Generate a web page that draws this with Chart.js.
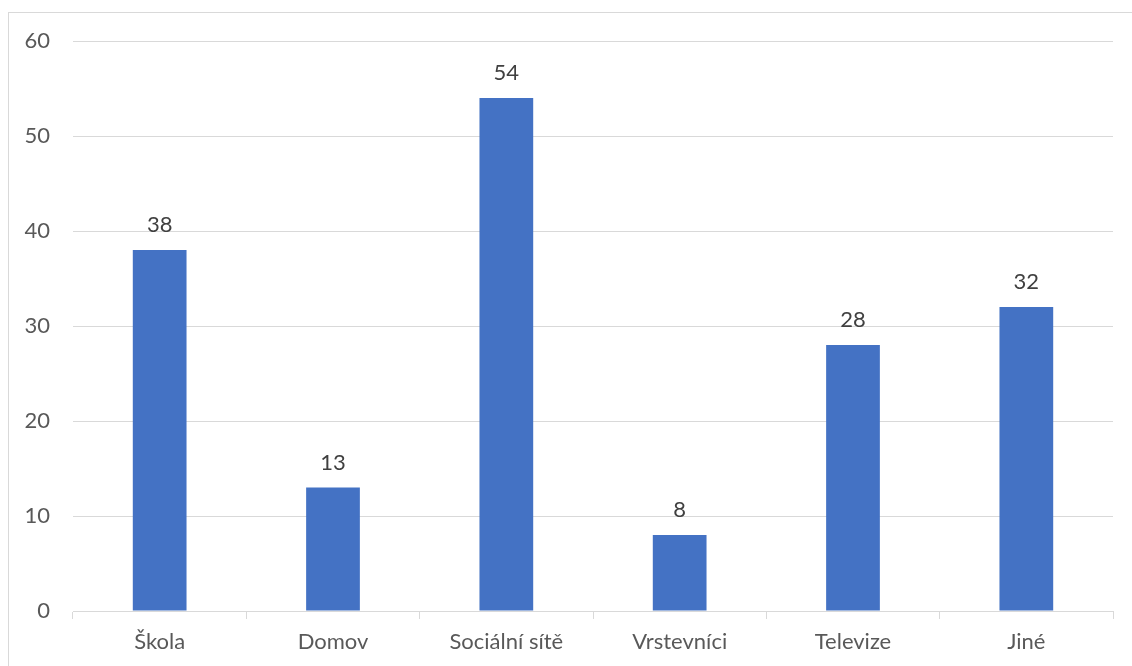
<!DOCTYPE html>
<html>
<head>
<meta charset="utf-8">
<script src="https://cdn.jsdelivr.net/npm/chart.js@4"></script>
<style>
    body { margin: 0; background: #fff; overflow: hidden; }
    #frame {
        position: absolute; left: 8px; top: 12px;
        width: 1200px; height: 700px;
        border: 1px solid #d9d9d9;
    }
    #wrap { position: absolute; left: 0; top: 0; width: 1132px; height: 666px; }
</style>
</head>
<body>
<div id="frame"></div>
<div id="wrap"><canvas id="chart"></canvas></div>
<script>
const categories = ["Škola", "Domov", "Sociální sítě", "Vrstevníci", "Televize", "Jiné"];
const values = [38, 13, 54, 8, 28, 32];
const yTicks = [0, 10, 20, 30, 40, 50, 60];

const FONT = "Lato, 'Open Sans', sans-serif";
const gridGray = "#d9d9d9";

/* value labels above the bars */
const barLabels = {
    id: "barLabels",
    afterDatasetsDraw(chart) {
        const ctx = chart.ctx;
        const meta = chart.getDatasetMeta(0);
        ctx.save();
        ctx.font = "22px " + FONT;
        ctx.fillStyle = "#404040";
        ctx.textAlign = "center";
        ctx.textBaseline = "middle";
        meta.data.forEach((bar, i) => {
            ctx.fillText(values[i], bar.x, bar.y - 25);
        });
        ctx.restore();
    }
};

new Chart(document.getElementById("chart"), {
    type: "bar",
    data: {
        labels: categories,
        datasets: [{
            data: values,
            backgroundColor: "#4472C4",
            categoryPercentage: 1,
            barPercentage: 0.31
        }]
    },
    options: {
        responsive: true,
        maintainAspectRatio: false,
        animation: false,
        layout: { padding: { left: 0, right: 19, top: 41, bottom: 0 } },
        plugins: {
            legend: { display: false },
            tooltip: { enabled: false }
        },
        scales: {
            x: {
                grid: {
                    display: true,
                    offset: true,
                    drawOnChartArea: false,
                    drawTicks: true,
                    tickLength: 8,
                    color: gridGray
                },
                border: { color: gridGray, width: 1 },
                ticks: {
                    color: "#595959",
                    font: { family: FONT, size: 22 },
                    padding: 10,
                    maxRotation: 0
                },
                afterFit(scale) { scale.height = 55; }
            },
            y: {
                min: 0,
                max: 60,
                afterBuildTicks(scale) {
                    scale.ticks = yTicks.map(v => ({ value: v }));
                },
                grid: {
                    color: gridGray,
                    drawTicks: false
                },
                border: { display: false },
                ticks: {
                    color: "#595959",
                    font: { family: FONT, size: 22 },
                    padding: 23
                },
                afterFit(scale) { scale.width = 73; }
            }
        }
    },
    plugins: [barLabels]
});
</script>
</body>
</html>
